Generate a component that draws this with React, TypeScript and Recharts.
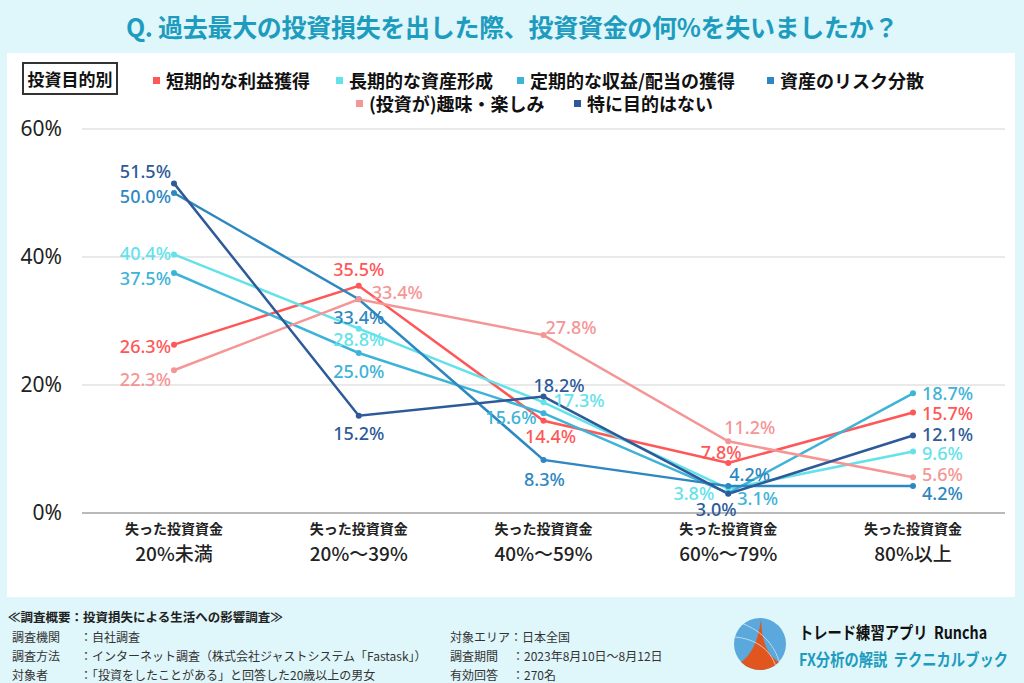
import { LineChart, Line, XAxis, YAxis, CartesianGrid, LabelList } from "recharts";

const categories = ["20%未満", "20%～39%", "40%～59%", "60%～79%", "80%以上"];
const shortTerm = [26.3, 35.5, 14.4, 7.8, 15.7];
const longTerm = [40.4, 28.8, 17.3, 3.8, 9.6];
const income = [37.5, 25.0, 15.6, 3.1, 18.7];
const diversify = [50.0, 33.4, 8.3, 4.2, 4.2];
const hobby = [22.3, 33.4, 27.8, 11.2, 5.6];
const noPurpose = [51.5, 15.2, 18.2, 3.0, 12.1];
const yTicks = [0, 20, 40, 60];

const series = [
  { key: "shortTerm", name: "短期的な利益獲得", values: shortTerm, color: "#ff5757" },
  { key: "longTerm", name: "長期的な資産形成", values: longTerm, color: "#64e2ea" },
  { key: "income", name: "定期的な収益/配当の獲得", values: income, color: "#3db3d8" },
  { key: "diversify", name: "資産のリスク分散", values: diversify, color: "#2d87c0" },
  { key: "hobby", name: "(投資が)趣味・楽しみ", values: hobby, color: "#f69595" },
  { key: "noPurpose", name: "特に目的はない", values: noPurpose, color: "#2e5a99" },
];

const data = categories.map((c, i) => {
  const row: Record<string, string | number> = { cat: c };
  series.forEach((s) => (row[s.key] = s.values[i]));
  return row;
});

// label placement per point: [anchor, dx, dy]
type Place = ["start" | "middle" | "end", number, number];
const placement: Record<string, Place[]> = {
  shortTerm: [["end", -3, 1], ["middle", 0, -17], ["middle", 7, 15], ["middle", -7, -11], ["start", 9, 0]],
  longTerm: [["end", -3, -1], ["middle", 0, 10], ["start", 10, -2], ["end", -14, 4], ["start", 9, 1]],
  income: [["end", -3, 5], ["middle", 0, 18], ["end", -7, 4], ["start", 9, 5], ["start", 9, 0]],
  diversify: [["end", -3, 3], ["middle", 0, 18], ["middle", 1, 19], ["start", 1, -12], ["start", 9, 7]],
  hobby: [["end", -3, 9], ["start", 13, -7], ["start", 2, -8], ["start", -4, -14], ["start", 9, -3]],
  noPurpose: [["end", -3, -12], ["middle", 0, 17], ["start", -10, -12], ["middle", -12, 15], ["start", 9, -2]],
};

function makeLabel(key: string, color: string) {
  return (props: any) => {
    const { x, y, value, index } = props;
    const [anchor, dx, dy] = placement[key][index];
    return (
      <text
        x={x + dx}
        y={y + dy}
        textAnchor={anchor}
        dominantBaseline="central"
        fill={color}
        fontSize={18}
        fontWeight={500}
        fontFamily="'Noto Sans', sans-serif"
      >
        {Number(value).toFixed(1)}%
      </text>
    );
  };
}

function CatTick({ x, y, payload }: any) {
  return (
    <g>
      <text x={x} y={y + 13} textAnchor="middle" fontSize={14} fontWeight={700} fill="#222" fontFamily="'Noto Sans CJK JP', sans-serif">
        失った投資資金
      </text>
      <text x={x} y={y + 40} textAnchor="middle" fontSize={19} fontWeight={500} fill="#222" fontFamily="'Noto Sans CJK JP', sans-serif">
        {payload.value}
      </text>
    </g>
  );
}

const legendPos = [
  { left: 153, top: 69 },
  { left: 336, top: 69 },
  { left: 517, top: 69 },
  { left: 767, top: 69 },
  { left: 356, top: 92 },
  { left: 574, top: 92 },
];

const cjk = "'Noto Sans CJK JP', sans-serif";
const narrow = { transform: "scaleX(0.84)", transformOrigin: "left center" };

export default function App() {
  return (
    <div style={{ position: "relative", width: 1024, height: 683, background: "#dff6fa", overflow: "hidden", fontFamily: cjk }}>
      <style>{"body{margin:0}"}</style>
      <div style={{ position: "absolute", top: 8, left: 0, width: 1024, textAlign: "center", fontSize: 25, fontWeight: 700, color: "#1d9cc0", letterSpacing: -0.3 }}>
        Q. 過去最大の投資損失を出した際、投資資金の何%を失いましたか？
      </div>
      <div style={{ position: "absolute", left: 7, top: 53, width: 1008, height: 544, background: "#fff" }} />
      <div style={{ position: "absolute", left: 22, top: 62, width: 92, height: 29, border: "2px solid #333", fontSize: 17, fontWeight: 700, color: "#111", textAlign: "center", lineHeight: "29px" }}>
        投資目的別
      </div>
      {series.map((s, i) => (
        <div key={s.key} style={{ position: "absolute", left: legendPos[i].left, top: legendPos[i].top, display: "flex", alignItems: "center", fontSize: 18, fontWeight: 700, color: "#111", whiteSpace: "nowrap", lineHeight: "22px" }}>
          <span style={{ display: "inline-block", width: 7, height: 7, background: s.color, marginRight: 6 }} />
          {s.name}
        </div>
      ))}
      <div style={{ position: "absolute", left: 0, top: 0 }}>
        <LineChart width={1024} height={683} data={data} margin={{ top: 129, right: 19, bottom: 110, left: 12 }}>
          <CartesianGrid vertical={false} stroke="#e2e2e2" strokeWidth={1.5} />
          <XAxis
            dataKey="cat"
            tick={<CatTick />}
            tickLine={false}
            axisLine={{ stroke: "#a8a8a8", strokeWidth: 1.5 }}
            height={60}
            interval={0}
            padding={{ left: 92, right: 92 }}
          />
          <YAxis
            domain={[0, 60]}
            ticks={yTicks}
            width={70}
            tickLine={false}
            axisLine={false}
            tickMargin={14}
            tickFormatter={(v: number) => `${v}%`}
            tick={{ fill: "#222", fontSize: 21, fontFamily: "'Noto Sans', sans-serif" }}
          />
          {series.map((s) => (
            <Line
              key={s.key}
              dataKey={s.key}
              name={s.name}
              stroke={s.color}
              strokeWidth={2.5}
              type="linear"
              dot={{ r: 3, fill: s.color, stroke: s.color, strokeWidth: 0 }}
              isAnimationActive={false}
            >
              <LabelList dataKey={s.key} content={makeLabel(s.key, s.color)} />
            </Line>
          ))}
        </LineChart>
      </div>
      <div style={{ position: "absolute", left: 8, top: 607, fontSize: 12.5, fontWeight: 700, color: "#222" }}>≪調査概要：投資損失による生活への影響調査≫</div>
      <div style={{ position: "absolute", left: 12, top: 627, fontSize: 12, color: "#333", lineHeight: "19px" }}>
        <div><span style={{ display: "inline-block", width: 68 }}>調査機関</span>：自社調査</div>
        <div><span style={{ display: "inline-block", width: 68 }}>調査方法</span>：インターネット調査（株式会社ジャストシステム「Fastask」）</div>
        <div><span style={{ display: "inline-block", width: 68 }}>対象者</span>：「投資をしたことがある」と回答した20歳以上の男女</div>
      </div>
      <div style={{ position: "absolute", left: 450, top: 627, fontSize: 12, color: "#333", lineHeight: "19px" }}>
        <div>対象エリア：日本全国</div>
        <div><span style={{ display: "inline-block", width: 62 }}>調査期間</span>：2023年8月10日～8月12日</div>
        <div><span style={{ display: "inline-block", width: 62 }}>有効回答</span>：270名</div>
      </div>
      <svg style={{ position: "absolute", left: 733, top: 617 }} width={54} height={54} viewBox="0 0 54 54">
        <defs>
          <clipPath id="lc">
            <circle cx={27} cy={27} r={26} />
          </clipPath>
        </defs>
        <circle cx={27} cy={27} r={26} fill="#5ba8dc" />
        <g clipPath="url(#lc)">
          <path d="M28 2 C29 25 33 40 54 50 L54 54 L0 54 L0 50 C18 42 25 25 28 2 Z" fill="#e0561e" />
          <path d="M8 6 C30 14 44 30 48 52" stroke="#cfe6f5" strokeWidth={1} fill="none" opacity={0.8} />
          <path d="M2 20 C24 22 40 34 44 54" stroke="#cfe6f5" strokeWidth={1} fill="none" opacity={0.8} />
        </g>
      </svg>
      <div style={{ position: "absolute", left: 799, top: 619, fontSize: 17, fontWeight: 700, color: "#111", whiteSpace: "nowrap", ...narrow }}>トレード練習アプリ&nbsp;&nbsp;Runcha</div>
      <div style={{ position: "absolute", left: 799, top: 646, fontSize: 17, fontWeight: 700, color: "#1d9cc0", whiteSpace: "nowrap", ...narrow }}>FX分析の解説&nbsp;&nbsp;テクニカルブック</div>
    </div>
  );
}
